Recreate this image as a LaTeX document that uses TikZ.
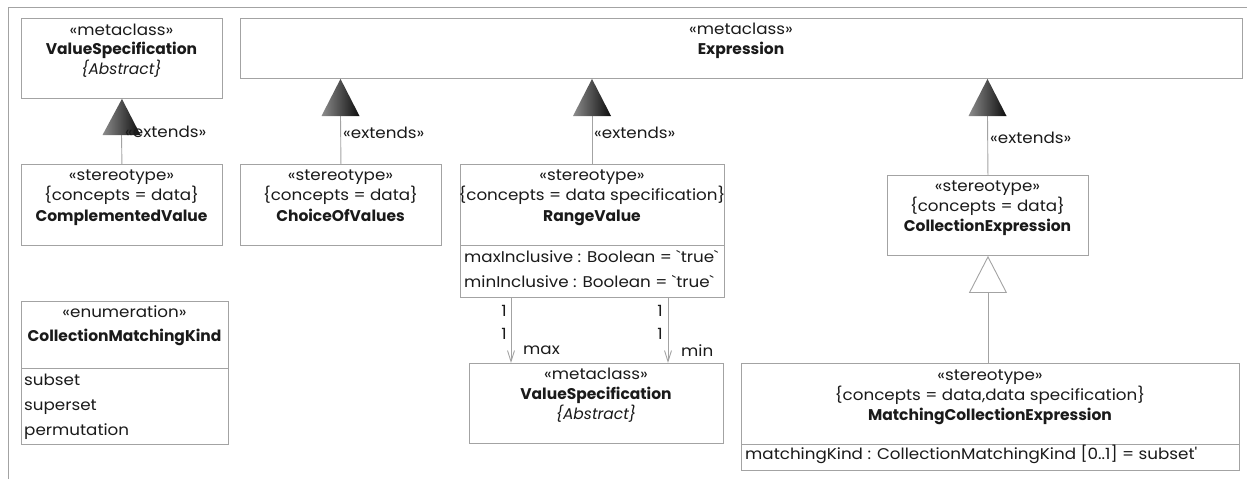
\documentclass[tikz,border=0pt]{standalone}
\usepackage{fontspec}
\setmainfont{Poppins}[Ligatures=TeXOff, UprightFeatures={FakeStretch=1.08}]
\usetikzlibrary{arrows.meta,calc}
\definecolor{bordr}{HTML}{A3A3A3}
\definecolor{txtc}{HTML}{1A1A1A}
\begin{document}
\begin{tikzpicture}[x=1pt,y=-1pt,
  font=\fontsize{15.5}{18}\selectfont, text=txtc,
  box/.style={draw=bordr, line width=0.9pt, anchor=north west, inner sep=0pt, fill=white},
  lbl/.style={inner sep=0pt, anchor=mid},
  lbll/.style={inner sep=0pt, anchor=mid west},
  conn/.style={draw=bordr, line width=0.9pt},
  tri/.style={left color=black!45, right color=black!95},
  assoc/.style={conn, -{Straight Barb[length=11pt,width=7pt]}},
  gen/.style={conn, -{Triangle[open,length=37pt,width=38pt,fill=white]}}]
\useasboundingbox (0,0) rectangle (1247,479);
% frame
\coordinate (fa) at (8,479);
\coordinate (fb) at (8,7);
\coordinate (fc) at (1247,7);
\draw[draw=bordr, line width=0.9pt] (fa) -- (fb) -- (fc);

% boxes
\node[box, minimum width=201pt, minimum height=80pt] (vs1) at (21,18) {};
\node[box, minimum width=1002pt, minimum height=60pt] (expr) at (240,18) {};
\node[box, minimum width=201pt, minimum height=81pt] (cv) at (21,164) {};
\node[box, minimum width=201pt, minimum height=81pt] (cov) at (240,164) {};
\node[box, minimum width=264pt, minimum height=133pt] (rv) at (460,164) {};
\node[box, minimum width=201pt, minimum height=80pt] (ce) at (887,175) {};
\node[box, minimum width=498pt, minimum height=107pt] (mce) at (741,363) {};
\node[box, minimum width=254pt, minimum height=80pt] (vs2) at (469,363) {};
\node[box, minimum width=207pt, minimum height=143pt] (cmk) at (21,301) {};

% compartment separators
\coordinate (rvs) at (460,245);
\coordinate (mces) at (741,444);
\coordinate (cmks) at (21,368);
\draw[conn] (rvs -| rv.west) -- (rvs -| rv.east);
\draw[conn] (mces -| mce.west) -- (mces -| mce.east);
\draw[conn] (cmks -| cmk.west) -- (cmks -| cmk.east);

% texts
\node[lbl] (vs1a) at (121.5,33) {«metaclass»};
\node[lbl] (vs1b) at (121.5,52) {\bfseries ValueSpecification};
\node[lbl] (vs1c) at (121.5,72) {\itshape\{Abstract\}};

\node[lbl] (expra) at (741,32) {«metaclass»};
\node[lbl] (exprb) at (741,52) {\bfseries Expression};

\node[lbl] (cva) at (121.5,178) {«stereotype»};
\node[lbl] (cvb) at (121.5,198) {\{concepts = data\}};
\node[lbl] (cvc) at (121.5,219) {\bfseries ComplementedValue};

\node[lbl] (cova) at (340.5,178) {«stereotype»};
\node[lbl] (covb) at (340.5,198) {\{concepts = data\}};
\node[lbl] (covc) at (340.5,219) {\bfseries ChoiceOfValues};

\node[lbl] (rva) at (592,178) {«stereotype»};
\node[lbl] (rvb) at (592,198) {\{concepts = data specification\}};
\node[lbl] (rvc) at (592,219) {\bfseries RangeValue};
\node[lbll] (rvd) at (464,260) {maxInclusive : Boolean = `true`};
\node[lbll] (rve) at (464,285) {minInclusive : Boolean = `true`};

\node[lbl] (cea) at (987.5,189) {«stereotype»};
\node[lbl] (ceb) at (987.5,209) {\{concepts = data\}};
\node[lbl] (cec) at (987.5,229) {\bfseries CollectionExpression};

\node[lbl] (mcea) at (990,378) {«stereotype»};
\node[lbl] (mceb) at (990,398) {\{concepts = data,data specification\}};
\node[lbl] (mcec) at (990,418) {\bfseries MatchingCollectionExpression};
\node[lbll] (mced) at (745,457) {matchingKind : CollectionMatchingKind [0..1] = subset'};

\node[lbl] (vs2a) at (596,377) {«metaclass»};
\node[lbl] (vs2b) at (596,397) {\bfseries ValueSpecification};
\node[lbl] (vs2c) at (596,417) {\itshape\{Abstract\}};

\node[lbl] (cmka) at (124.5,315) {«enumeration»};
\node[lbl] (cmkb) at (124.5,339) {\bfseries CollectionMatchingKind};
\node[lbll] (cmkc) at (24,383) {subset};
\node[lbll] (cmkd) at (24,408) {superset};
\node[lbll] (cmke) at (24,433) {permutation};

% extends connectors (line + shaded triangle)
\coordinate (t1) at (121.5,135);
\coordinate (t2) at (340.5,116);
\coordinate (t3) at (592,116);
\coordinate (t4) at (987.5,116);
\draw[conn] (cv.north) -- (t1);
\draw[conn] (cov.north) -- (t2);
\draw[conn] (rv.north -| t3) -- (t3);
\draw[conn] (ce.north) -- (t4);
\shade[tri] (vs1.south) -- ($(t1)+(-19,0)$) -- ($(t1)+(19,0)$) -- cycle;
\shade[tri] (expr.south -| t2) -- ($(t2)+(-19,0)$) -- ($(t2)+(19,0)$) -- cycle;
\shade[tri] (expr.south -| t3) -- ($(t3)+(-19,0)$) -- ($(t3)+(19,0)$) -- cycle;
\shade[tri] (expr.south -| t4) -- ($(t4)+(-19,0)$) -- ($(t4)+(19,0)$) -- cycle;
\node[lbll] (e1) at (125,135) {«extends»};
\node[lbll] (e2) at (343,136) {«extends»};
\node[lbll] (e3) at (594,136) {«extends»};
\node[lbll] (e4) at (990,141) {«extends»};

% generalization
\draw[gen] (mce.north -| ce.south) -- (ce.south);

% associations
\coordinate (ax1) at (511,0);
\coordinate (ax2) at (668,0);
\draw[assoc] (rv.south -| ax1) -- (vs2.north -| ax1);
\draw[assoc] (rv.south -| ax2) -- (vs2.north -| ax2);
\node[lbl, anchor=mid east] (m1a) at (507,314) {1};
\node[lbl, anchor=mid east] (m1b) at (507,337) {1};
\node[lbll] (m1c) at (523,352) {max};
\node[lbl, anchor=mid east] (m2a) at (663,314) {1};
\node[lbl, anchor=mid east] (m2b) at (663,337) {1};
\node[lbll] (m2c) at (681,354) {min};
\end{tikzpicture}
\end{document}
